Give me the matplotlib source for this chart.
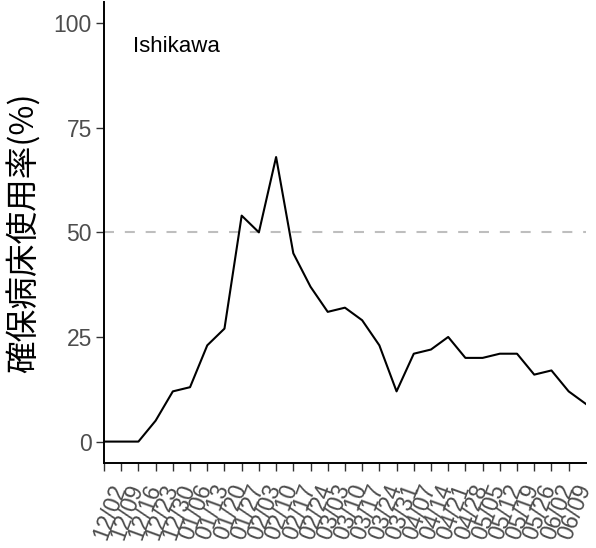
import numpy as np
import matplotlib
matplotlib.use("Agg")
import matplotlib.pyplot as plt
import matplotlib.transforms as mtrans

plt.rcParams['font.family'] = ['Liberation Sans', 'Noto Sans CJK JP', 'DejaVu Sans']

# weekly dates (last point has no tick label)
dates = ["12/02", "12/09", "12/16", "12/23", "12/30", "01/06", "01/13", "01/20",
         "01/27", "02/03", "02/10", "02/17", "02/24", "03/03", "03/10", "03/17",
         "03/24", "03/31", "04/07", "04/14", "04/21", "04/28", "05/05", "05/12",
         "05/19", "05/26", "06/02", "06/09", "06/16"]
usage = [0, 0, 0, 5, 12, 13, 23, 27, 54, 50, 68, 45, 37, 31, 32, 29,
         23, 12, 21, 22, 25, 20, 20, 21, 21, 16, 17, 12, 9]
tick_labels = dates[:-1]
pref = "Ishikawa"
threshold = 50

fig = plt.figure(figsize=(5.96, 5.48), dpi=100)
ax = fig.add_axes([0.1745, 0.156, 0.8085, 0.840])

x = np.arange(len(usage))
ax.axhline(threshold, color='#BEBEBE', lw=1.5, dashes=(4.8, 5.2), zorder=1)
ax.plot(x, usage, color='black', lw=1.5, zorder=2)

ax.set_xlim(0, len(usage) - 1)
ax.set_ylim(-5, 105)
ax.set_yticks([0, 25, 50, 75, 100])
ax.set_xticks(np.arange(len(tick_labels)))
ax.set_xticklabels(tick_labels, rotation=70, ha='right', va='top',
                   rotation_mode='anchor')

for s in ['top', 'right']:
    ax.spines[s].set_visible(False)
for s in ['left', 'bottom']:
    ax.spines[s].set_linewidth(1.4)

ax.tick_params(axis='both', length=5.8, width=1.0, color='#333333',
               labelcolor='#4D4D4D', labelsize=16.5, pad=3)
ax.tick_params(axis='x', pad=7.5)
# nudge x labels a bit to the right
shift = mtrans.ScaledTranslation(5 / 100, 0, fig.dpi_scale_trans)
for lab in ax.get_xticklabels():
    lab.set_transform(lab.get_transform() + shift)

ax.set_ylabel("確保病床使用率(%)", fontsize=23.5, family=['Noto Sans CJK JP', 'DejaVu Sans'],
              labelpad=9)

ax.text(0.06, 0.903, pref, transform=ax.transAxes, fontsize=16, color='black',
        ha='left', va='center')

fig.savefig("out.png", dpi=100)
